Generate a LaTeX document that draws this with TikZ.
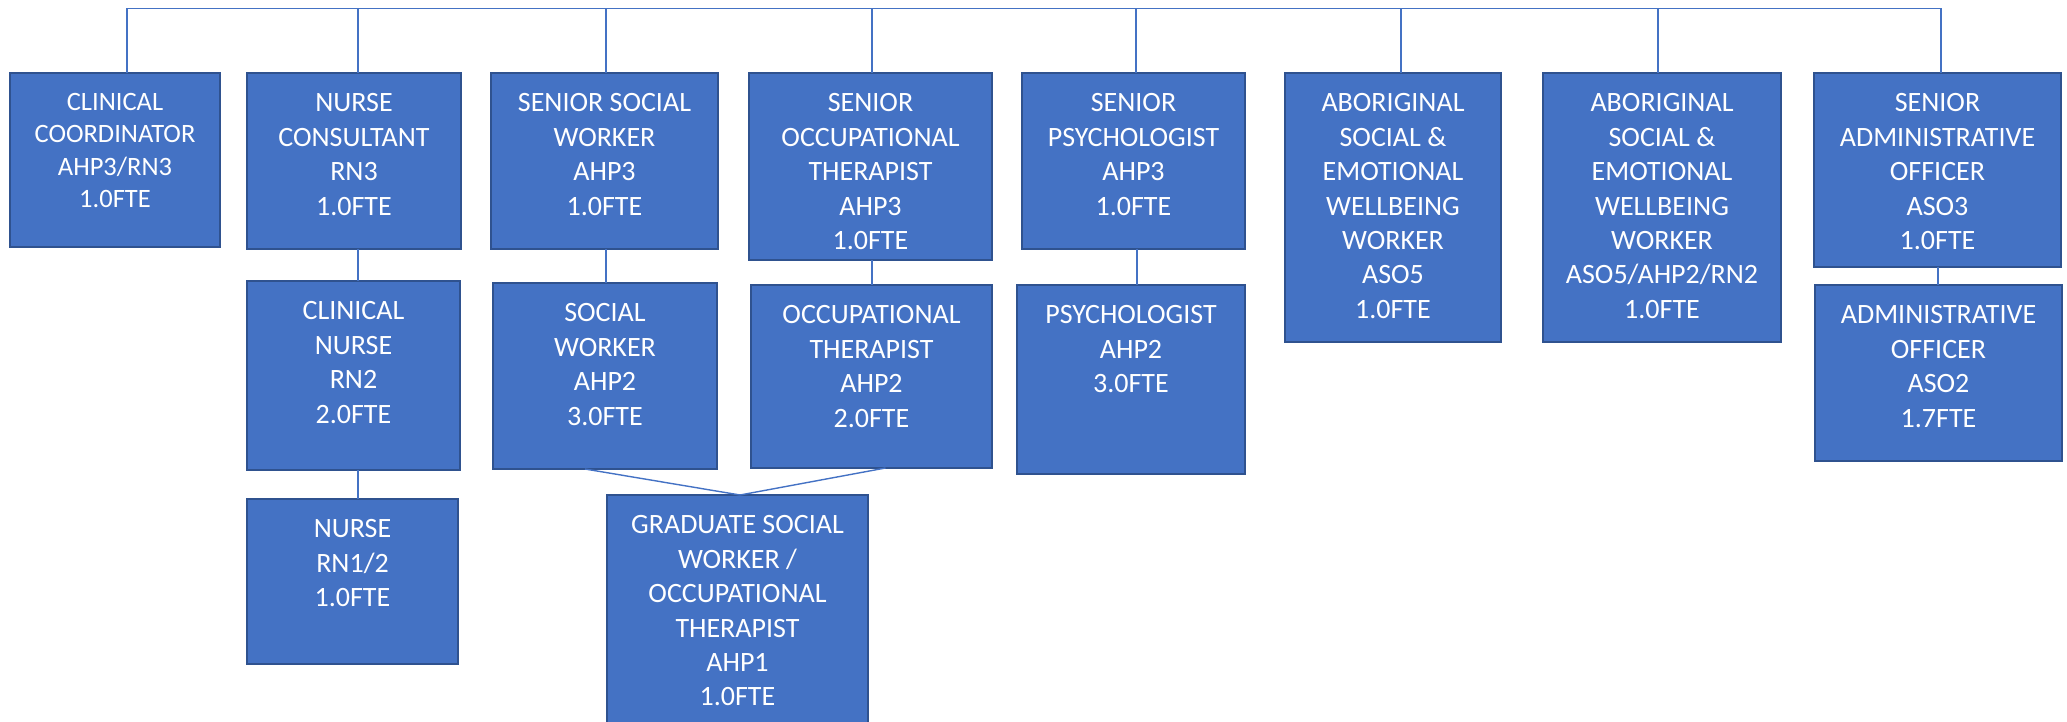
\documentclass[tikz,border=0pt]{standalone}
\usepackage{fontspec}
\setmainfont{Carlito}
\definecolor{boxfill}{HTML}{4472C4}
\definecolor{boxline}{HTML}{2F528F}
\definecolor{conn}{HTML}{4472C4}
\tikzset{
  orgbox/.style={draw=boxline, fill=boxfill, line width=2pt, inner sep=0pt, outer sep=0pt},
  lbl/.style={anchor=north, inner sep=0pt, text=white, align=center, font=\fontsize{28}{34.4}\selectfont},
  lblsmall/.style={lbl, font=\fontsize{26.5}{32.4}\selectfont},
  link/.style={draw=conn, line width=1.4pt}
}
\newcommand\mkbox[5]{%
  \node[orgbox, anchor=north west, minimum width={(#4-#2)*1pt}, minimum height={(#5-#3)*1pt}] (#1) at (#2,#3) {};}
\begin{document}
\begin{tikzpicture}[x=1pt, y=-1pt]
\useasboundingbox (0,0) rectangle (2067,722);
% boxes
\mkbox{cc}{10}{73}{220}{247}
\mkbox{nc}{247}{73}{461}{249}
\mkbox{ssw}{491}{73}{718}{249}
\mkbox{sot}{749}{73}{992}{260}
\mkbox{sp}{1022}{73}{1245}{249}
\mkbox{abo}{1285}{73}{1501}{342}
\mkbox{abt}{1543}{73}{1781}{342}
\mkbox{sao}{1814}{73}{2061}{267}
\mkbox{cn}{247}{281}{460}{470}
\mkbox{nu}{247}{499}{458}{664}
\mkbox{sw}{493}{283}{717}{469}
\mkbox{ot}{751}{285}{992}{468}
\mkbox{ps}{1017}{285}{1245}{474}
\mkbox{ao}{1815}{285}{2062}{461}
\mkbox{gr}{607}{495}{868}{735}
% labels
\node[lblsmall] (cct) at ([yshift=-20pt]cc.north) {CLINICAL\\COORDINATOR\\AHP3/RN3\\1.0FTE};
\node[lbl] (nct) at ([yshift=-20.5pt]nc.north) {NURSE\\CONSULTANT\\RN3\\1.0FTE};
\node[lbl] (sswt) at ([yshift=-20.5pt]ssw.north) {SENIOR SOCIAL\\WORKER\\AHP3\\1.0FTE};
\node[lbl] (sott) at ([yshift=-20.5pt]sot.north) {SENIOR\\OCCUPATIONAL\\THERAPIST\\AHP3\\1.0FTE};
\node[lbl] (spt) at ([yshift=-20.5pt]sp.north) {SENIOR\\PSYCHOLOGIST\\AHP3\\1.0FTE};
\node[lbl] (abot) at ([yshift=-20.5pt]abo.north) {ABORIGINAL\\SOCIAL \&\\EMOTIONAL\\WELLBEING\\WORKER\\ASO5\\1.0FTE};
\node[lbl] (abtt) at ([yshift=-20.5pt]abt.north) {ABORIGINAL\\SOCIAL \&\\EMOTIONAL\\WELLBEING\\WORKER\\ASO5/AHP2/RN2\\1.0FTE};
\node[lbl] (saot) at ([yshift=-20.5pt]sao.north) {SENIOR\\ADMINISTRATIVE\\OFFICER\\ASO3\\1.0FTE};
\node[lbl] (cnt) at ([yshift=-20.5pt]cn.north) {CLINICAL\\NURSE\\RN2\\2.0FTE};
\node[lbl] (nut) at ([yshift=-20.5pt]nu.north) {NURSE\\RN1/2\\1.0FTE};
\node[lbl] (swt) at ([yshift=-20.5pt]sw.north) {SOCIAL\\WORKER\\AHP2\\3.0FTE};
\node[lbl] (ott) at ([yshift=-20.5pt]ot.north) {OCCUPATIONAL\\THERAPIST\\AHP2\\2.0FTE};
\node[lbl] (pst) at ([yshift=-20.5pt]ps.north) {PSYCHOLOGIST\\AHP2\\3.0FTE};
\node[lbl] (aot) at ([yshift=-20.5pt]ao.north) {ADMINISTRATIVE\\OFFICER\\ASO2\\1.7FTE};
\node[lbl] (grt) at ([yshift=-20.5pt]gr.north) {GRADUATE SOCIAL\\WORKER /\\OCCUPATIONAL\\THERAPIST\\AHP1\\1.0FTE};
% bus coordinates
\coordinate (b1) at (127,8.5);
\coordinate (b2) at (358,8.5);
\coordinate (b3) at (606,8.5);
\coordinate (b4) at (872,8.5);
\coordinate (b5) at (1136,8.5);
\coordinate (b6) at (1401,8.5);
\coordinate (b7) at (1658,8.5);
\coordinate (b8) at (1941,8.5);
\draw[link] (b1) -- (b8);
\draw[link] (b1) -- (b1 |- cc.north);
\draw[link] (b2) -- (b2 |- nc.north);
\draw[link] (b3) -- (b3 |- ssw.north);
\draw[link] (b4) -- (b4 |- sot.north);
\draw[link] (b5) -- (b5 |- sp.north);
\draw[link] (b6) -- (b6 |- abo.north);
\draw[link] (b7) -- (b7 |- abt.north);
\draw[link] (b8) -- (b8 |- sao.north);
\draw[link] (b2 |- nc.south) -- (b2 |- cn.north);
\draw[link] (b2 |- cn.south) -- (b2 |- nu.north);
\draw[link] (b3 |- ssw.south) -- (b3 |- sw.north);
\draw[link] (b4 |- sot.south) -- (b4 |- ot.north);
\draw[link] ([xshift=1pt]b5 |- sp.south) -- ([xshift=1pt]b5 |- ps.north);
\draw[link] ([xshift=-3pt]b8 |- sao.south) -- ([xshift=-3pt]b8 |- ao.north);
\draw[link] ([xshift=-20pt]sw.south) -- ([xshift=2.5pt]gr.north);
\draw[link] ([xshift=14pt]ot.south) -- ([xshift=2.5pt]gr.north);
\end{tikzpicture}
\end{document}
